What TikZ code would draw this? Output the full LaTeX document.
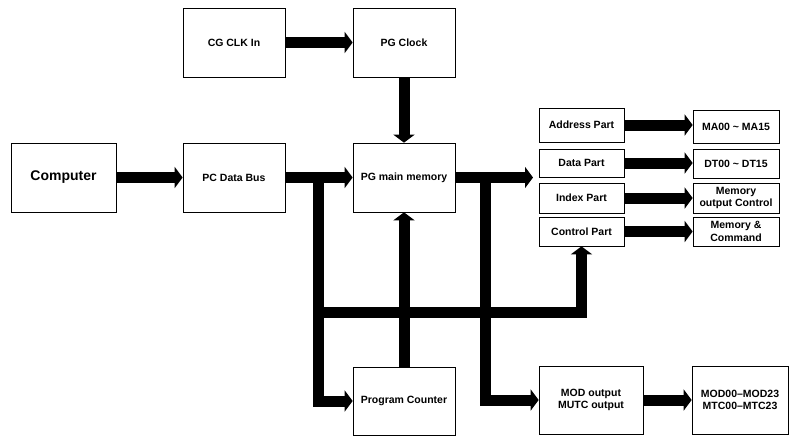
\documentclass[tikz,border=0pt]{standalone}
\usepackage{fontspec}
\setmainfont{Liberation Sans}
\usetikzlibrary{arrows.meta}
\begin{document}
\begin{tikzpicture}[x=1pt,y=-1pt,
 box/.style={draw, line width=0.7pt, fill=white, inner sep=1pt, align=center, font=\bfseries\fontsize{10.5}{12.5}\selectfont},
 bus/.style={line width=11pt, -{Triangle[width=21pt,length=8pt]}}]
\useasboundingbox (0,0) rectangle (789,437);
% boxes
\node[box, minimum width=102pt, minimum height=69pt] (cg) at (234,42.5) {CG CLK In};
\node[box, minimum width=102pt, minimum height=69pt] (pgc) at (404,42.5) {PG Clock};
\node[box, minimum width=105pt, minimum height=69pt, font=\bfseries\fontsize{14}{16}\selectfont] (comp) at (63.5,177.5) {Computer};
\node[box, minimum width=102pt, minimum height=69pt] (pcb) at (234,177.5) {PC Data Bus};
\node[box, minimum width=102pt, minimum height=69pt] (pgm) at (404,177.5) {PG main memory};
\node[box, minimum width=102pt, minimum height=68pt] (pc) at (404,401) {Program Counter};
\node[box, minimum width=104pt, minimum height=68pt] (mod) at (591,400) {MOD output\\MUTC output};
\node[box, minimum width=96pt, minimum height=68pt] (modo) at (740,400) {MOD00--MOD23\\MTC00--MTC23};
\node[box, minimum width=85pt, minimum height=34pt] (addr) at (581.5,125) {Address Part};
\node[box, minimum width=85pt, minimum height=28pt] (data) at (581.5,163) {Data Part};
\node[box, minimum width=85pt, minimum height=30pt] (index) at (581.5,198) {Index Part};
\node[box, minimum width=85pt, minimum height=29pt] (ctrl) at (581.5,231.5) {Control Part};
\node[box, minimum width=86pt, minimum height=33pt] (ma) at (736,126.5) {MA00 \textasciitilde{} MA15};
\node[box, minimum width=86pt, minimum height=29pt] (dt) at (736,163.5) {DT00 \textasciitilde{} DT15};
\node[box, minimum width=86pt, minimum height=30pt] (moc) at (736,198) {Memory\\output Control};
\node[box, minimum width=86pt, minimum height=29pt] (mc) at (736,231.5) {Memory \&\\Command};
% junctions
\coordinate (mo) at (533,177.5);
\coordinate (j1) at (318,177.5);
\coordinate (j2) at (318,312);
\coordinate (j3) at (485,177.5);
% connectors
\draw[bus] (cg) -- (pgc);
\draw[bus] (pgc) -- (pgm);
\draw[bus] (comp) -- (pcb);
\draw[bus] (pcb) -- (pgm);
\draw[bus] (pc) -- (pgm);
\draw[bus] (pgm.east) -- (mo);
\draw[bus] (j1) |- (pc.west);
\draw[bus] (j2) -| (ctrl.south);
\draw[bus] (j3) |- (mod.west);
\draw[bus] (addr.east) -- (addr.east -| ma.west);
\draw[bus] (data.east) -- (data.east -| dt.west);
\draw[bus] (index.east) -- (index.east -| moc.west);
\draw[bus] (ctrl.east) -- (ctrl.east -| mc.west);
\draw[bus] (mod.east) -- (mod.east -| modo.west);
\end{tikzpicture}
\end{document}
